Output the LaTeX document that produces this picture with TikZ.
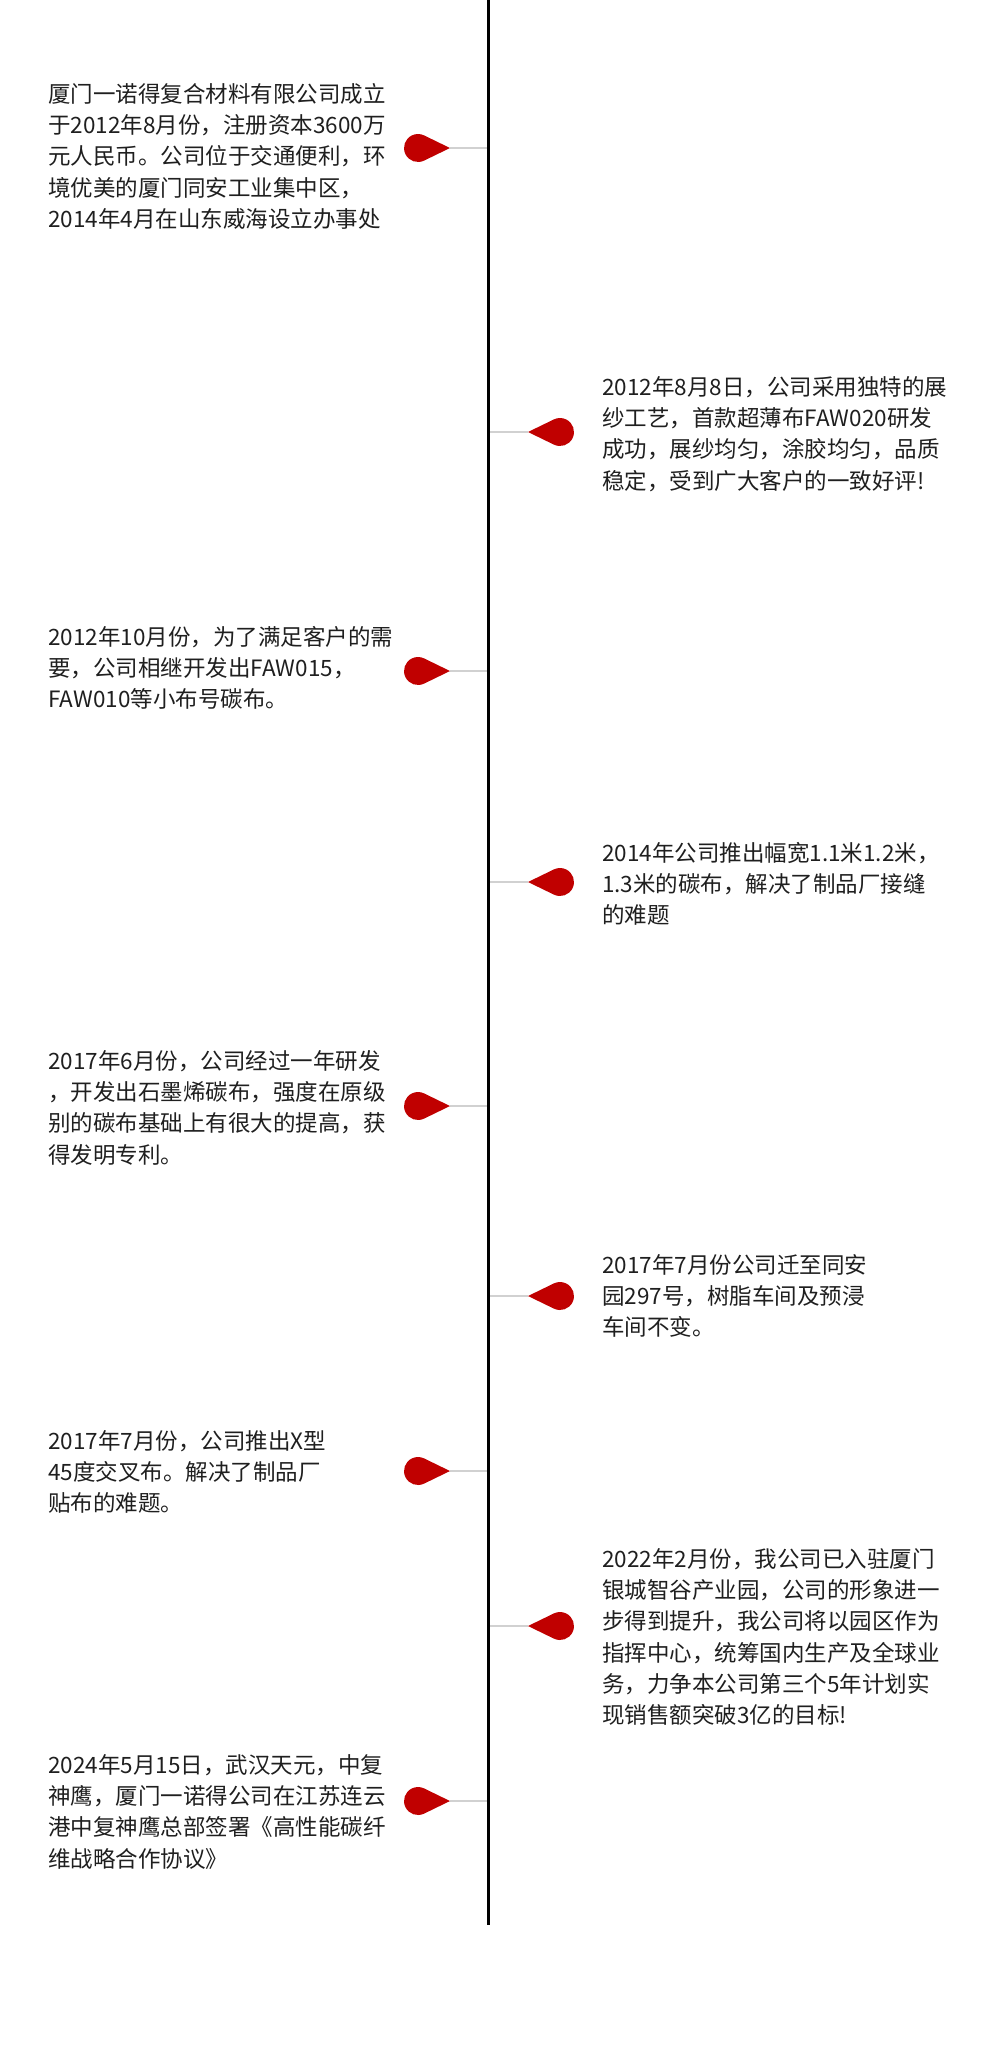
\documentclass[tikz,border=0pt]{standalone}
\usepackage{fontspec}
\setmainfont{Noto Sans CJK SC}
\usetikzlibrary{calc}
\definecolor{mred}{HTML}{C00000}
\begin{document}
\begin{tikzpicture}[x=1pt,y=-1pt,
  txt/.style={anchor=north west,inner sep=0pt,align=left,font=\fontsize{22.5}{31.3}\selectfont,text=black!88},
  conn/.style={draw=black!18,line width=1.2pt},
  pin/.style={fill=mred}]
\useasboundingbox[fill=white] (0,0) rectangle (1000,2046);
\coordinate (top) at (488,0);
\coordinate (bot) at (488,1925);
\draw[line width=3pt] (top) -- (bot);
\foreach \n/\y in {a/148,c/671,e/1106,g/1471,i/1801}{
  \coordinate (\n tip) at (450,\y);
  \coordinate (\n axis) at (487,\y);
  \draw[conn] (\n tip) -- (\n axis);
  \fill[pin] (\n tip) -- ($(418,\y)+(64:14)$) arc[start angle=64,end angle=296,radius=14] -- cycle;
}
\foreach \n/\y in {b/432,d/882,f/1296,h/1626}{
  \coordinate (\n tip) at (528,\y);
  \coordinate (\n axis) at (490,\y);
  \draw[conn] (\n axis) -- (\n tip);
  \fill[pin] (\n tip) -- ($(560,\y)+(116:14)$) arc[start angle=116,end angle=-116,radius=14] -- cycle;
}
\node[txt] (ta) at (48,83) {厦门一诺得复合材料有限公司成立\\于2012年8月份，注册资本3600万\\元人民币。公司位于交通便利，环\\境优美的厦门同安工业集中区，\\2014年4月在山东威海设立办事处};
\node[txt] (tb) at (602,376) {2012年8月8日，公司采用独特的展\\纱工艺，首款超薄布FAW020研发\\成功，展纱均匀，涂胶均匀，品质\\稳定，受到广大客户的一致好评!};
\node[txt] (tc) at (48,626) {2012年10月份，为了满足客户的需\\要，公司相继开发出FAW015，\\FAW010等小布号碳布。};
\node[txt] (td) at (602,842) {2014年公司推出幅宽1.1米1.2米，\\1.3米的碳布，解决了制品厂接缝\\的难题};
\node[txt] (te) at (48,1050) {2017年6月份，公司经过一年研发\\，开发出石墨烯碳布，强度在原级\\别的碳布基础上有很大的提高，获\\得发明专利。};
\node[txt] (tf) at (602,1254) {2017年7月份公司迁至同安\\园297号，树脂车间及预浸\\车间不变。};
\node[txt] (tg) at (48,1430) {2017年7月份，公司推出X型\\45度交叉布。解决了制品厂\\贴布的难题。};
\node[txt] (th) at (602,1548) {2022年2月份，我公司已入驻厦门\\银城智谷产业园，公司的形象进一\\步得到提升，我公司将以园区作为\\指挥中心，统筹国内生产及全球业\\务，力争本公司第三个5年计划实\\现销售额突破3亿的目标!};
\node[txt] (ti) at (48,1754) {2024年5月15日，武汉天元，中复\\神鹰，厦门一诺得公司在江苏连云\\港中复神鹰总部签署《高性能碳纤\\维战略合作协议》};
\end{tikzpicture}
\end{document}
